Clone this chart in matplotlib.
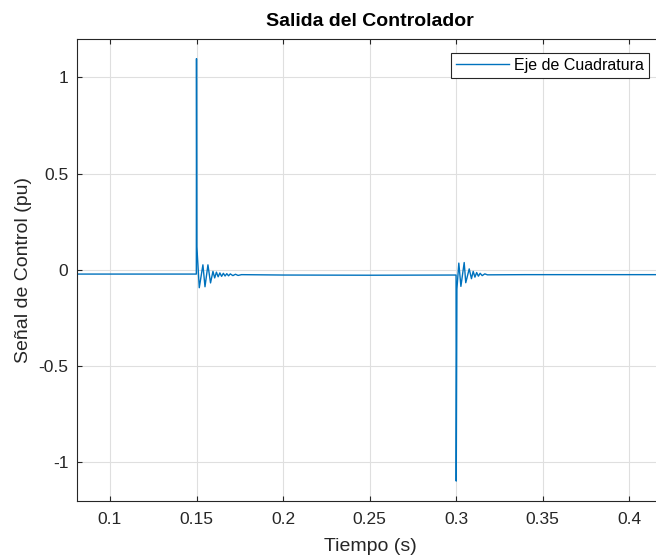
import matplotlib.pyplot as plt
import numpy as np

# Salida del controlador - eje de cuadratura
plt.rcParams['font.family'] = ['Liberation Sans', 'DejaVu Sans']
plt.rcParams['axes.unicode_minus'] = False

# puntos de la senal (tiempo en s, valor en pu)
tiempo = [0.080, 0.1499, 0.1500, 0.1502, 0.1516, 0.1537, 0.1549, 0.1566, 0.1581,
          0.1595, 0.1605, 0.1615, 0.1625, 0.1635, 0.1645, 0.1655, 0.1665,
          0.1675, 0.1685, 0.1695, 0.1710, 0.1725, 0.1740, 0.1760, 0.2000,
          0.2500, 0.2999,
          0.3000, 0.3004, 0.3015, 0.3027, 0.3046, 0.3055, 0.3075, 0.3088,
          0.3098, 0.3108, 0.3118, 0.3128, 0.3138, 0.3150, 0.3165, 0.3180,
          0.3400, 0.4200]
senal = [-0.022, -0.022, 1.098, 0.12, -0.093, 0.026, -0.088, 0.026, -0.068,
         -0.008, -0.042, -0.012, -0.036, -0.016, -0.034, -0.018, -0.032,
         -0.020, -0.031, -0.021, -0.030, -0.023, -0.029, -0.025, -0.027,
         -0.028, -0.027,
         -1.098, -0.100, 0.035, -0.086, 0.038, -0.067, 0.005, -0.046,
         -0.008, -0.038, -0.014, -0.033, -0.018, -0.030, -0.021, -0.026,
         -0.025, -0.025]

xticks = [0.1, 0.15, 0.2, 0.25, 0.3, 0.35, 0.4]
yticks = [-1, -0.5, 0, 0.5, 1]

fig = plt.figure(figsize=(6.56, 5.57), dpi=100)
ax = fig.add_axes([0.1169, 0.1011, 0.8953, 0.8289])

ax.plot(tiempo, senal, color='#0072BD', linewidth=1.0, label='Eje de Cuadratura')

ax.set_xlim(0.0808, 0.42)
ax.set_ylim(-1.2, 1.2)
ax.set_xticks(xticks)
ax.set_xticklabels(['0.1', '0.15', '0.2', '0.25', '0.3', '0.35', '0.4'])
ax.set_yticks(yticks)
ax.set_yticklabels(['-1', '-0.5', '0', '0.5', '1'])

ax.grid(True, color='#dfdfdf', linewidth=0.8)
ax.set_axisbelow(True)
for s in ax.spines.values():
    s.set_color('#262626')
    s.set_linewidth(0.8)
ax.tick_params(direction='in', top=True, right=True, length=3.5, width=0.8,
               colors='#262626', labelsize=12.5)
ax.tick_params(axis='x', pad=8)
ax.tick_params(axis='y', pad=6)

ax.set_title('Salida del Controlador', fontsize=14, fontweight='bold', color='black', pad=9)
ax.set_xlabel('Tiempo (s)', fontsize=14, color='#262626', labelpad=8)
ax.set_ylabel('Señal de Control (pu)', fontsize=14, color='#262626', labelpad=4.5)

leg = ax.legend(loc='upper right', bbox_to_anchor=(0.9745, 0.9697), borderaxespad=0,
                fontsize=11.5, fancybox=False, edgecolor='#262626', framealpha=1,
                handlelength=3.3, borderpad=0.3, handletextpad=0.35)
leg.get_frame().set_linewidth(0.8)

fig.savefig('out.png', dpi=100)
